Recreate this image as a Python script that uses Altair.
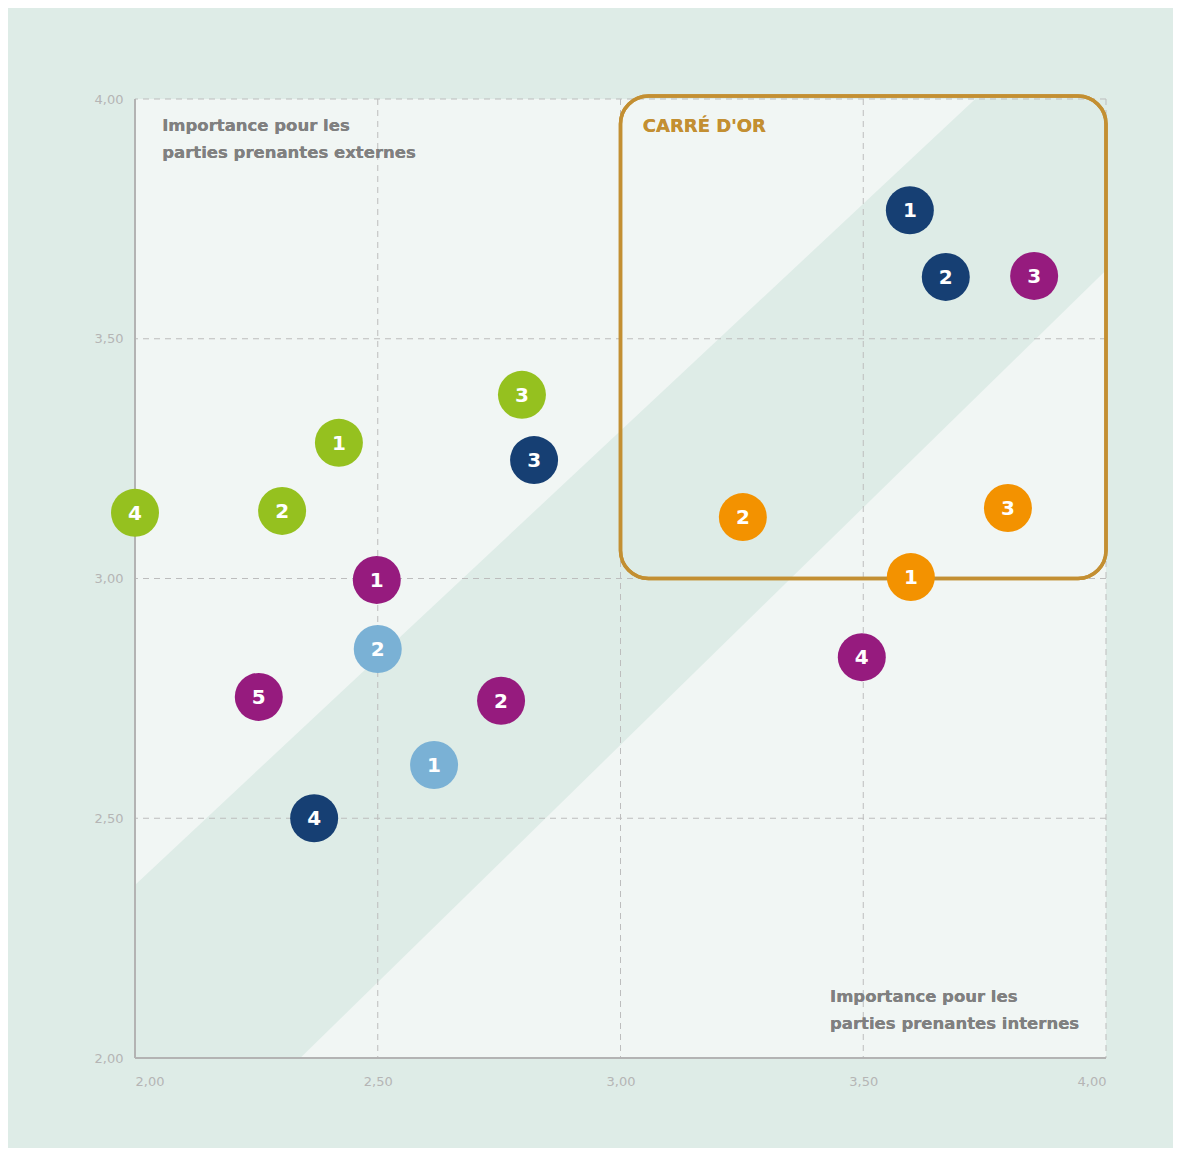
import altair as alt
import pandas as pd

# --- data -------------------------------------------------------------
groups = (["navy"] * 4 + ["magenta"] * 5 + ["green"] * 4 +
          ["lightblue"] * 2 + ["orange"] * 3)
labels = ["1", "2", "3", "4",
          "1", "2", "3", "4", "5",
          "1", "2", "3", "4",
          "1", "2",
          "1", "2", "3"]
internes = [3.596, 3.670, 2.822, 2.369,
            2.498, 2.754, 3.852, 3.497, 2.255,
            2.420, 2.303, 2.797, 2.000,
            2.616, 2.500,
            3.598, 3.252, 3.798]
externes = [3.768, 3.629, 3.247, 2.500,
            2.997, 2.745, 3.631, 2.836, 2.753,
            3.283, 3.141, 3.383, 3.137,
            2.611, 2.853,
            3.003, 3.128, 3.147]

group_domain = ["navy", "magenta", "green", "lightblue", "orange"]
group_colors = ["#163f73", "#961b7e", "#95c11f", "#7ab1d5", "#f39200"]

# diagonal band (lower and upper edge at x = 2 and x = 4)
band_x = [2.0, 4.0]
band_low = [1.663, 3.643]
band_high = [2.361, 4.255]

grid_ticks = [2.5, 3.0, 3.5, 4.0]
axis_ticks = [2.0, 2.5, 3.0, 3.5, 4.0]

pts = pd.DataFrame({"groupe": groups, "label": labels,
                    "internes": internes, "externes": externes})
band = pd.DataFrame({"x": band_x, "lo": band_low, "hi": band_high})
grid = pd.DataFrame({"v": grid_ticks})

FONT = "DejaVu Sans"
LABEL_EXPR = "replace(format(datum.value, '.2f'), '.', ',')"

xs = alt.Scale(domain=[2, 4], nice=False, zero=False)
ys = alt.Scale(domain=[2, 4], nice=False, zero=False)

x_axis = alt.Axis(values=axis_ticks, labelExpr=LABEL_EXPR, grid=False, ticks=False,
                  domain=False, title=None, labelFlush=True, labelPadding=17,
                  labelColor="#b5b5b5", labelFontSize=13, labelFont=FONT)
y_axis = alt.Axis(values=axis_ticks, labelExpr=LABEL_EXPR, grid=False, ticks=False,
                  domain=False, title=None, labelPadding=12,
                  labelColor="#b5b5b5", labelFontSize=13, labelFont=FONT)

band_layer = alt.Chart(band).mark_area(color="#deece7", clip=True).encode(
    x=alt.X("x:Q", scale=xs, axis=x_axis),
    y=alt.Y("lo:Q", scale=ys, axis=y_axis),
    y2="hi:Q",
)

vgrid = alt.Chart(grid).mark_rule(color="#bdbdbd", strokeDash=[6, 5], strokeWidth=1).encode(
    x=alt.X("v:Q", scale=xs))
hgrid = alt.Chart(grid).mark_rule(color="#bdbdbd", strokeDash=[6, 5], strokeWidth=1).encode(
    y=alt.Y("v:Q", scale=ys))

left_line = alt.Chart(band).mark_rule(color="#b3b3b3", strokeWidth=2).encode(
    x=alt.datum(2.0, scale=xs))
bottom_line = alt.Chart(band).mark_rule(color="#b3b3b3", strokeWidth=2).encode(
    y=alt.datum(2.0, scale=ys))

gold = alt.Chart(band).mark_rect(
    fillOpacity=0, stroke="#c38f32", strokeWidth=3.5, cornerRadius=28
).encode(
    x=alt.datum(3.0, scale=xs), x2=alt.datum(4.0),
    y=alt.datum(3.0, scale=ys), y2=alt.datum(4.006),
)

gold_text = alt.Chart(band).mark_text(
    text="CARRÉ D'OR", color="#c38f32", font=FONT, fontWeight="bold", fontSize=18,
    align="left", baseline="middle"
).encode(x=alt.datum(3.046, scale=xs), y=alt.datum(3.942, scale=ys))

ext_text = alt.Chart(band).mark_text(
    text=["Importance pour les", "parties prenantes externes"], color="#808080",
    font=FONT, fontWeight="bold", fontSize=16.5, lineHeight=27,
    align="left", baseline="middle"
).encode(x=alt.datum(2.056, scale=xs), y=alt.datum(3.944, scale=ys))

int_text = alt.Chart(band).mark_text(
    text=["Importance pour les", "parties prenantes internes"], color="#808080",
    font=FONT, fontWeight="bold", fontSize=16.5, lineHeight=27,
    align="left", baseline="middle"
).encode(x=alt.datum(3.4315, scale=xs), y=alt.datum(2.127, scale=ys))

dots = alt.Chart(pts).mark_circle(size=2304, opacity=1).encode(
    x=alt.X("internes:Q", scale=xs),
    y=alt.Y("externes:Q", scale=ys),
    color=alt.Color("groupe:N", scale=alt.Scale(domain=group_domain, range=group_colors),
                    legend=None),
)

nums = alt.Chart(pts).mark_text(
    color="white", font=FONT, fontWeight="bold", fontSize=20, baseline="middle", dy=1
).encode(
    x=alt.X("internes:Q", scale=xs),
    y=alt.Y("externes:Q", scale=ys),
    text="label:N",
)

chart = alt.layer(
    band_layer, vgrid, hgrid, left_line, bottom_line, gold,
    gold_text, ext_text, int_text, dots, nums
).properties(
    width=971, height=959,
    background="#deece7",
    padding={"left": 127, "top": 91, "right": 67, "bottom": 90},
    autosize=alt.AutoSizeParams(type="none"),
).configure_view(
    fill="#f1f6f4", stroke=None
)

chart.save("out.html", embed_options={"renderer": "svg", "actions": False})
